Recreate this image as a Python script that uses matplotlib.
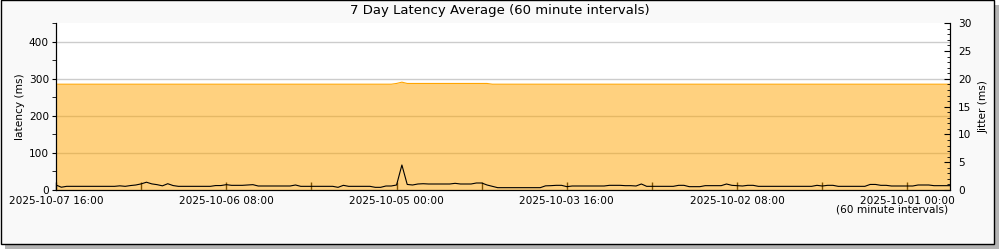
import numpy as np
import matplotlib
matplotlib.use("Agg")
import matplotlib.pyplot as plt
from matplotlib.patches import Rectangle
from matplotlib.ticker import MultipleLocator

# hours back from 2025-10-07 16:00, one sample per hour (60 minute intervals)
hours = np.arange(169)

# latency average (ms), left axis
latency = [285.5] * 64 + [287.5, 291.0] + [287.5] * 16 + [285.5] * 87

# jitter (ms), right axis
jitter = ([0.9, 0.5] + [0.66] * 10
          + [0.75, 0.66, 0.8, 0.9, 1.1, 1.4, 1.1, 0.96, 0.75, 1.13, 0.8]
          + [0.66] * 7 + [0.8, 0.8, 0.96] + [0.84] * 3 + [0.9, 0.96]
          + [0.72] * 7 + [0.9] + [0.66] * 7 + [0.48, 0.84] + [0.66] * 5
          + [0.48] * 2 + [0.72] * 2 + [0.9, 4.5, 1.0, 0.9, 1.08, 1.13]
          + [1.08] * 5 + [1.2] + [1.08] * 3 + [1.26] * 2 + [0.9, 0.66]
          + [0.42] * 9 + [0.75, 0.78] + [0.84] * 2 + [0.6] + [0.72] * 7
          + [0.84] * 3 + [0.78] * 2 + [0.72, 1.08] + [0.66] * 6
          + [0.84] * 2 + [0.6] * 3 + [0.78] * 4 + [1.08, 0.84, 0.78, 0.72]
          + [0.84] * 2 + [0.66] * 11 + [0.84, 0.72] + [0.84] * 2
          + [0.66] * 6 + [1.0] * 2 + [0.84] * 2 + [0.72] * 5 + [0.9] * 3
          + [0.78] * 4)

tick_hours = [0, 32, 64, 96, 128, 160]
tick_labels = ["2025-10-07 16:00", "2025-10-06 08:00", "2025-10-05 00:00",
               "2025-10-03 16:00", "2025-10-02 08:00", "2025-10-01 00:00"]

fig = plt.figure(figsize=(10, 2.5), dpi=100)
fig.patch.set_facecolor("white")

# framed panel with drop shadow
fig.add_artist(Rectangle((0.005, 0.004), 0.994, 0.975, transform=fig.transFigure,
                         facecolor="#b4b4b4", edgecolor="none", zorder=-3))
fig.add_artist(Rectangle((0.0005, 0.024), 0.993, 0.975, transform=fig.transFigure,
                         facecolor="#f9f9f9", edgecolor="black", linewidth=1, zorder=-2))

ax = fig.add_axes([0.056, 0.24, 0.894, 0.667])
ax.set_facecolor("white")

ax.fill_between(hours, latency, color="#ffa500", alpha=0.5, linewidth=0, zorder=2)
ax.plot(hours, latency, color="#ffa500", linewidth=0.8, zorder=3)

ax.set_xlim(0, 168)
ax.set_ylim(0, 450)
ax.set_xticks(tick_hours)
ax.set_xticklabels(tick_labels, fontsize=7.6)
ax.xaxis.set_minor_locator(MultipleLocator(16))
ax.tick_params(axis="x", which="both", direction="in", length=6, width=1, pad=4)
ax.yaxis.set_major_locator(MultipleLocator(100))
ax.yaxis.set_minor_locator(MultipleLocator(50))
ax.tick_params(axis="y", which="both", direction="out", length=3, labelsize=7.6, pad=2)
ax.grid(axis="y", which="major", color="#cccccc", linewidth=1, zorder=0)
ax.set_axisbelow(True)
ax.set_ylabel("latency (ms)", fontsize=7.6, labelpad=3)
ax.spines["top"].set_visible(False)

ax2 = ax.twinx()
ax2.plot(hours, jitter, color="black", linewidth=0.8, zorder=4)
ax2.set_ylim(0, 30)
ax2.yaxis.set_major_locator(MultipleLocator(5))
ax2.yaxis.set_minor_locator(MultipleLocator(1))
ax2.tick_params(axis="y", which="major", direction="in", length=4, labelsize=7.6, pad=6)
ax2.tick_params(axis="y", which="minor", direction="in", length=2)
ax2.set_ylabel("Jitter (ms)", fontsize=7.6, labelpad=5)
ax2.spines["top"].set_visible(False)

fig.text(0.5, 0.958, "7 Day Latency Average (60 minute intervals)",
         ha="center", va="center", fontsize=9.5)
fig.text(0.948, 0.162, "(60 minute intervals)", ha="right", va="center", fontsize=7.6)

fig.savefig("out.png", dpi=100)
